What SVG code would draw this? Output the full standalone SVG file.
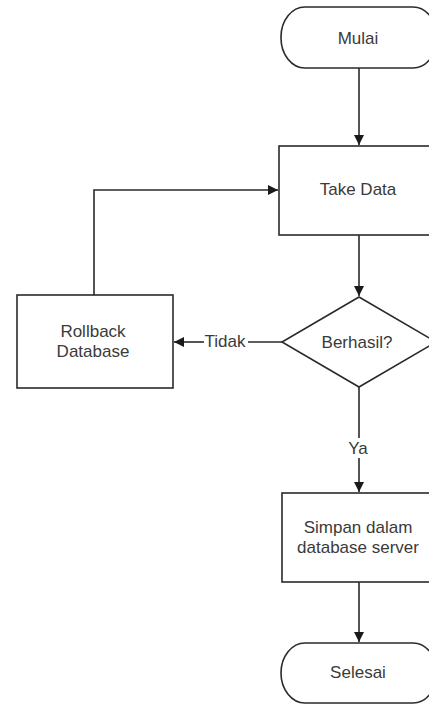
<svg xmlns="http://www.w3.org/2000/svg" width="429" height="704" viewBox="0 0 429 704">
  <style>
    .shape { fill: #ffffff; stroke: #2a2a2a; stroke-width: 1.6; }
    .line { fill: none; stroke: #2a2a2a; stroke-width: 1.6; }
    .label { font-family: "Liberation Sans", Arial, sans-serif; font-size: 17px; fill: #3a3a3a; text-anchor: middle; }
  </style>
  <defs>
    <marker id="arrow" viewBox="0 0 10 10" refX="10" refY="5" markerWidth="10" markerHeight="10" markerUnits="userSpaceOnUse" orient="auto">
      <path d="M0,0 L10,5 L0,10 Z" fill="#1a1a1a"/>
    </marker>
  </defs>
  <rect width="429" height="704" fill="#ffffff"/>

  <g id="connectors">
    <line class="line" x1="359" y1="68" x2="359" y2="145" marker-end="url(#arrow)"/>
    <line class="line" x1="359" y1="235" x2="359" y2="296" marker-end="url(#arrow)"/>
    <line class="line" x1="282" y1="342" x2="248" y2="342"/>
    <line class="line" x1="204" y1="342" x2="174" y2="342" marker-end="url(#arrow)"/>
    <text class="label" x="225" y="347">Tidak</text>
    <polyline class="line" points="94,295 94,190 278,190" marker-end="url(#arrow)"/>
    <line class="line" x1="359" y1="387" x2="359" y2="438"/>
    <line class="line" x1="359" y1="458" x2="359" y2="492" marker-end="url(#arrow)"/>
    <text class="label" x="358" y="454">Ya</text>
    <line class="line" x1="359" y1="582" x2="359" y2="642" marker-end="url(#arrow)"/>
  </g>

  <g id="mulai">
    <rect class="shape" x="281" y="7" width="156" height="61" rx="24" ry="30"/>
    <text class="label" x="358" y="44">Mulai</text>
  </g>

  <g id="take-data">
    <rect class="shape" x="279" y="146" width="160" height="89"/>
    <text class="label" x="358" y="195">Take Data</text>
  </g>

  <g id="berhasil">
    <polygon class="shape" points="359,297 436,342 359,387 282,342"/>
    <text class="label" x="357" y="348">Berhasil?</text>
  </g>

  <g id="rollback">
    <rect class="shape" x="17" y="295" width="156" height="93"/>
    <text class="label" x="93" y="337">Rollback</text>
    <text class="label" x="93" y="357">Database</text>
  </g>

  <g id="simpan">
    <rect class="shape" x="282" y="493" width="156" height="89"/>
    <text class="label" x="358" y="533">Simpan dalam</text>
    <text class="label" x="358" y="553">database server</text>
  </g>

  <g id="selesai">
    <rect class="shape" x="281" y="643" width="156" height="60" rx="24" ry="30"/>
    <text class="label" x="358" y="678">Selesai</text>
  </g>
</svg>
